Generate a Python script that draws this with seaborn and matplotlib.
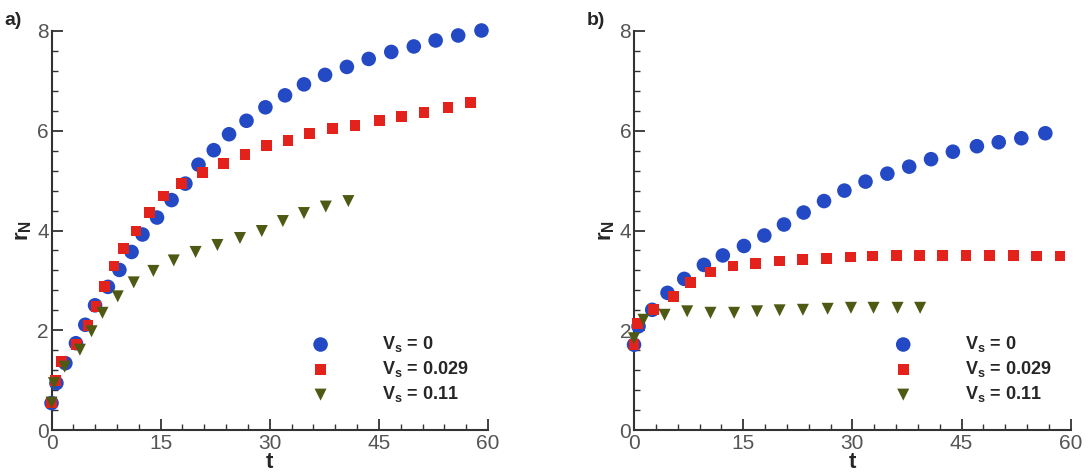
import numpy as np
import pandas as pd
import matplotlib
matplotlib.use("Agg")
import matplotlib.pyplot as plt
from matplotlib.ticker import MultipleLocator
import seaborn as sns

# ---------------- data ----------------
series_labels = [r"$\mathbf{V_s}$ = 0", r"$\mathbf{V_s}$ = 0.029", r"$\mathbf{V_s}$ = 0.11"]

# panel a
a_t_v0 = [0, 0.67, 1.9, 3.35, 4.64, 5.98, 7.75, 9.33, 11.0, 12.5, 14.5, 16.5, 18.4, 20.2,
          22.3, 24.4, 26.8, 29.4, 32.1, 34.7, 37.6, 40.6, 43.6, 46.7, 49.8, 52.8, 55.9, 59.1]
a_r_v0 = [0.54, 0.94, 1.34, 1.74, 2.11, 2.50, 2.87, 3.21, 3.57, 3.92, 4.26, 4.61, 4.94, 5.32,
          5.61, 5.93, 6.20, 6.47, 6.71, 6.93, 7.12, 7.28, 7.44, 7.58, 7.69, 7.81, 7.91, 8.01]
a_t_v1 = [0, 0.57, 1.4, 3.4, 5.0, 6.1, 7.3, 8.6, 9.9, 11.6, 13.5, 15.4, 17.9, 20.7,
          23.6, 26.6, 29.5, 32.5, 35.5, 38.6, 41.7, 45.1, 48.1, 51.2, 54.5, 57.6]
a_r_v1 = [0.55, 0.99, 1.37, 1.71, 2.10, 2.48, 2.87, 3.29, 3.64, 3.99, 4.36, 4.69, 4.95, 5.16,
          5.35, 5.53, 5.70, 5.81, 5.94, 6.04, 6.10, 6.20, 6.29, 6.37, 6.46, 6.56]
a_t_v2 = [0, 0.33, 1.8, 3.9, 5.5, 7.0, 9.1, 11.3, 14.0, 16.8, 19.8, 22.8, 25.9, 28.9,
          31.8, 34.7, 37.7, 40.8]
a_r_v2 = [0.55, 0.94, 1.27, 1.61, 1.98, 2.35, 2.68, 2.96, 3.19, 3.40, 3.57, 3.71, 3.85, 3.99,
          4.19, 4.35, 4.48, 4.59]

# panel b
b_t_v0 = [0, 0.62, 2.5, 4.6, 6.9, 9.6, 12.2, 15.1, 17.9, 20.6, 23.3, 26.1, 28.9, 31.8,
          34.8, 37.8, 40.8, 43.8, 47.1, 50.1, 53.2, 56.5]
b_r_v0 = [1.71, 2.08, 2.41, 2.75, 3.03, 3.31, 3.50, 3.69, 3.90, 4.12, 4.36, 4.59, 4.80, 4.98,
          5.14, 5.28, 5.43, 5.58, 5.69, 5.77, 5.85, 5.95]
b_t_v1 = [0, 0.48, 2.7, 5.4, 7.8, 10.5, 13.6, 16.7, 20.0, 23.1, 26.4, 29.7, 32.8, 36.1,
          39.2, 42.4, 45.6, 48.8, 52.1, 55.3, 58.5]
b_r_v1 = [1.71, 2.13, 2.41, 2.67, 2.96, 3.17, 3.29, 3.34, 3.39, 3.42, 3.44, 3.47, 3.49, 3.50,
          3.50, 3.50, 3.50, 3.50, 3.50, 3.49, 3.49]
b_t_v2 = [0, 1.3, 4.2, 7.3, 10.5, 13.75, 16.9, 20.0, 23.2, 26.6, 29.8, 32.9, 36.2, 39.3]
b_r_v2 = [1.84, 2.21, 2.31, 2.38, 2.35, 2.35, 2.38, 2.40, 2.41, 2.43, 2.45, 2.45, 2.45, 2.45]

panel_letters = ["a)", "b)"]
x_ticks = [0, 15, 30, 45, 60]
y_ticks = [0, 2, 4, 6, 8]

# ---------------- style ----------------
sns.set_theme(style="ticks")
plt.rcParams["font.family"] = ["Liberation Sans", "DejaVu Sans"]
plt.rcParams["mathtext.fontset"] = "custom"
plt.rcParams["mathtext.rm"] = "Liberation Sans"
plt.rcParams["mathtext.it"] = "Liberation Sans:italic"
plt.rcParams["mathtext.bf"] = "Liberation Sans:bold"

colors = ["#2449c4", "#e3221c", "#4e5a14"]
markers = ["o", "s", "v"]
msizes = [110, 60, 75]

fig = plt.figure(figsize=(10.92, 4.74), dpi=100)
ax_a = fig.add_axes([0.0472, 0.0928, 0.3997, 0.8418])
ax_b = fig.add_axes([0.5806, 0.0928, 0.4000, 0.8418])

panels = [
    (ax_a, [(a_t_v0, a_r_v0), (a_t_v1, a_r_v1), (a_t_v2, a_r_v2)]),
    (ax_b, [(b_t_v0, b_r_v0), (b_t_v1, b_r_v1), (b_t_v2, b_r_v2)]),
]

spine_col = "#333333"
label_col = "#555555"

for (ax, series), letter in zip(panels, panel_letters):
    for (tt, rr), lab, c, m, s in zip(series, series_labels, colors, markers, msizes):
        df = pd.DataFrame({"t": tt, "r": rr})
        sns.scatterplot(data=df, x="t", y="r", ax=ax, color=c, marker=m, s=s,
                        edgecolor="none", linewidth=0, label=lab, legend=False,
                        clip_on=False, zorder=3)
    ax.set_xlim(0, 60)
    ax.set_ylim(0, 8)
    ax.set_xticks(x_ticks)
    ax.set_yticks(y_ticks)
    ax.xaxis.set_minor_locator(MultipleLocator(3))
    ax.yaxis.set_minor_locator(MultipleLocator(0.4))
    ax.tick_params(which="major", direction="in", length=8, width=1.3, color=spine_col,
                   labelsize=15, labelcolor=label_col, pad=2)
    ax.tick_params(axis="x", which="major", pad=3)
    ax.tick_params(which="minor", direction="in", length=4, width=1.0, color=spine_col)
    for sp in ["top", "right"]:
        ax.spines[sp].set_visible(False)
    for sp in ["left", "bottom"]:
        ax.spines[sp].set_color(spine_col)
        ax.spines[sp].set_linewidth(1.5)
    ax.set_xlabel("t", fontsize=16, fontweight="bold", labelpad=-1)
    ax.set_ylabel(r"$\mathbf{r_N}$", fontsize=16, labelpad=2)
    leg = ax.legend(loc="upper left", bbox_to_anchor=(0.575, 0.24), borderaxespad=0,
                    borderpad=0, frameon=False, fontsize=13, handletextpad=2.4,
                    labelspacing=0.28, handlelength=2)
    for txt in leg.get_texts():
        txt.set_fontweight("bold")
    pos = ax.get_position()
    fig.text(pos.x0 - 0.043, 0.975, letter, fontsize=14, fontweight="bold",
             ha="left", va="top")

fig.savefig("out.png", dpi=100)
